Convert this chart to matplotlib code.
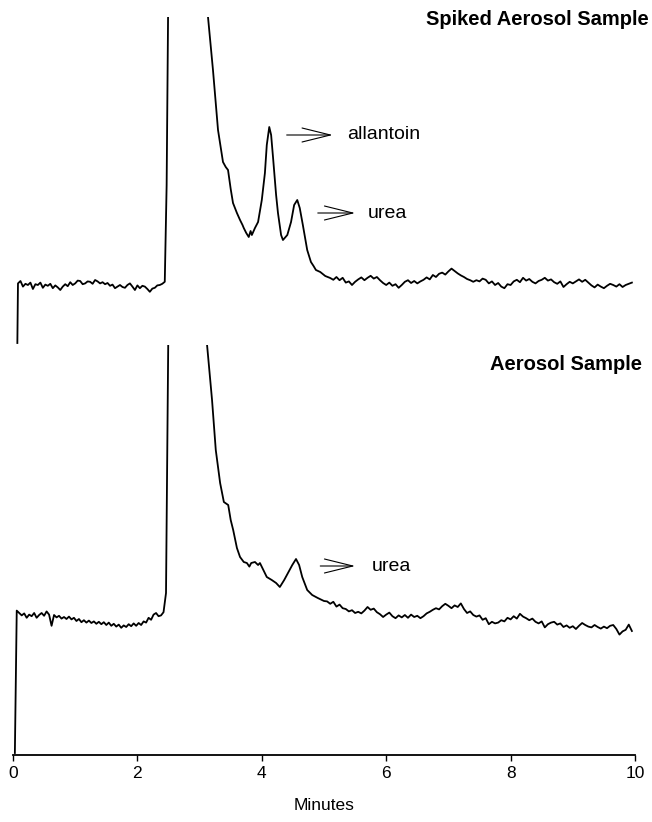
import numpy as np
import matplotlib
matplotlib.use("Agg")
import matplotlib.pyplot as plt

plt.rcParams['font.family'] = ['Liberation Sans', 'DejaVu Sans']

# ---- Spiked aerosol sample (top trace), detector signal in arbitrary units ----
top_start = (0.07, 0.5)
top_base_left = [15.4, 16.0, 14.6, 15.3, 15.0, 15.6, 14.0, 15.2, 15.0, 15.6,
                 14.3, 15.1, 14.8, 15.3, 14.2, 14.9, 14.4, 13.75, 14.6, 15.2,
                 14.7, 15.7, 15.0, 15.4, 16.1, 16.0, 15.2, 15.4, 15.9, 15.8,
                 15.3, 16.25, 15.9, 15.4, 15.7, 15.2, 15.5, 14.8, 15.1, 14.2,
                 14.6, 15.0, 14.5, 14.3, 15.0, 15.4, 14.6, 13.75, 14.9, 14.2,
                 14.8, 14.6, 14.0, 13.3, 14.1, 14.3, 14.9, 15.0, 15.3, 15.8]
top_peak_t = [2.47, 2.50, 3.05, 3.135, 3.215, 3.296, 3.376, 3.42, 3.457, 3.50,
              3.537, 3.60, 3.65, 3.69, 3.71, 3.75, 3.79, 3.82, 3.84, 3.89,
              3.94, 4.00, 4.05, 4.08, 4.12, 4.15, 4.18, 4.23, 4.26, 4.31,
              4.34, 4.41, 4.47, 4.52, 4.57, 4.61, 4.66, 4.73, 4.79, 4.83,
              4.87, 4.94, 5.02, 5.10]
top_peak_v = [40, 95, 110, 82, 68.75, 53.75, 45.75, 44.5, 43.75, 39,
              35.5, 33, 31.25, 30.0, 29.25, 28.0, 27, 28.5, 27.5, 29.25,
              30.75, 36.25, 43, 50, 54.5, 52.5, 47, 37.5, 33, 27.5,
              26.25, 27.5, 30.75, 35, 36.25, 34.25, 30, 23.75, 20.75, 19.8,
              18.75, 18.25, 17.25, 16.75]
top_base_right = [16.3, 17.0, 16.2, 16.8, 15.6, 15.9, 15.0, 15.8, 16.4, 16.9,
                  16.2, 16.8, 17.3, 16.6, 17.0, 16.2, 15.5, 15.0, 15.6, 14.8,
                  15.2, 14.3, 15.0, 15.8, 16.2, 15.5, 16.0, 15.4, 15.9, 16.3,
                  16.9, 16.4, 17.5, 17.0, 17.8, 18.1, 17.6, 18.4, 19.1, 18.5,
                  17.9, 17.4, 17.0, 16.5, 16.2, 15.8, 16.2, 15.9, 16.6, 16.3,
                  15.4, 15.9, 15.0, 15.5, 14.6, 14.2, 15.2, 15.0, 15.9, 16.3,
                  15.7, 16.8, 16.1, 16.5, 15.8, 15.4, 16.0, 16.3, 16.8, 16.1,
                  16.4, 15.7, 15.3, 15.9, 14.5, 15.2, 15.8, 15.4, 15.9, 16.4,
                  15.8, 16.3, 15.6, 14.9, 14.4, 15.1, 14.6, 14.2, 14.8, 15.3,
                  15.0, 14.6, 15.2, 14.5, 15.0, 15.3, 15.6]

# ---- Aerosol sample (bottom trace) ----
bot_start = (0.03, 0.0)
bot_base_left = [35.6, 35.0, 34.4, 34.9, 33.8, 34.6, 34.2, 35.0, 33.8, 34.5,
                 35.0, 34.3, 35.4, 34.6, 31.8, 34.5, 33.9, 34.3, 33.6, 34.0,
                 33.5, 34.1, 33.4, 33.8, 33.0, 33.5, 32.7, 33.2, 32.6, 33.1,
                 32.5, 32.9, 32.3, 32.8, 32.2, 32.7, 32.0, 32.6, 31.8, 32.3,
                 31.6, 32.1, 31.3, 31.9, 31.5, 32.2, 31.7, 32.4, 31.8, 32.5,
                 32.0, 32.9, 32.6, 33.8, 33.3, 34.6, 35.0, 34.2, 34.4, 35.2]
bot_peak_t = [2.46, 2.50, 3.05, 3.12, 3.20, 3.26, 3.33, 3.39, 3.46, 3.50,
              3.54, 3.60, 3.65, 3.71, 3.76, 3.80, 3.83, 3.89, 3.94, 3.97,
              4.04, 4.08, 4.16, 4.23, 4.29, 4.36, 4.42, 4.49, 4.55, 4.60,
              4.65, 4.73, 4.81, 4.90, 5.00]
bot_peak_v = [40, 110, 130, 102, 88.25, 75.75, 67.5, 62.75, 62, 58.25,
              55.75, 51.25, 49, 47.75, 47.5, 46.6, 47.5, 47.75, 47.0, 47.5,
              45.25, 44, 43.25, 42.5, 41.5, 43.25, 45, 47, 48.5, 47,
              44, 40.75, 39.5, 38.75, 38]
bot_base_right = [37.9, 37.3, 37.8, 36.6, 37.1, 36.2, 36.0, 35.4, 35.7, 35.0,
                  35.3, 34.9, 35.6, 36.5, 35.8, 36.1, 35.2, 34.7, 34.0, 34.6,
                  35.1, 34.2, 33.7, 34.4, 33.9, 34.5, 33.8, 34.6, 34.0, 34.3,
                  33.7, 34.2, 34.9, 35.3, 35.8, 36.2, 35.9, 36.7, 37.3, 36.8,
                  36.2, 36.9, 36.5, 37.4, 36.0, 35.0, 35.4, 34.5, 34.1, 34.4,
                  33.3, 33.7, 32.2, 32.8, 32.4, 32.6, 33.2, 32.9, 33.8, 33.4,
                  34.2, 33.6, 34.8, 34.1, 33.7, 33.2, 33.6, 32.8, 32.4, 32.9,
                  31.4, 32.2, 32.6, 32.8, 32.1, 32.4, 31.5, 31.9, 31.3, 31.7,
                  31.0, 31.8, 32.5, 32.0, 31.6, 31.4, 32.0, 31.5, 31.1, 31.6,
                  31.2, 31.8, 32.0, 31.0, 29.6, 30.4, 30.8, 32.1, 30.5]

x_ticks = [0, 2, 4, 6, 8, 10]

t_top = np.concatenate([[top_start[0]], np.linspace(0.08, 2.44, len(top_base_left)),
                        top_peak_t, np.linspace(5.15, 9.95, len(top_base_right))])
v_top = np.concatenate([[top_start[1]], top_base_left, top_peak_v, top_base_right])

t_bot = np.concatenate([[bot_start[0]], np.linspace(0.06, 2.42, len(bot_base_left)),
                        bot_peak_t, np.linspace(5.05, 9.95, len(bot_base_right))])
v_bot = np.concatenate([[bot_start[1]], bot_base_left, bot_peak_v, bot_base_right])

fig = plt.figure(figsize=(6.52, 8.22), dpi=100)
ax_top = fig.add_axes([0.01994, 0.58029, 0.95399, 0.39903])
ax_bot = fig.add_axes([0.01994, 0.08151, 0.95399, 0.49878])

ax_top.plot(t_top, v_top, color='black', lw=1.3)
ax_top.set_xlim(0, 10)
ax_top.set_ylim(0, 82)
ax_top.axis('off')

ax_bot.plot(t_bot, v_bot, color='black', lw=1.3)
ax_bot.set_xlim(0, 10)
ax_bot.set_ylim(-0.5, 102)
for s in ['top', 'right', 'left']:
    ax_bot.spines[s].set_visible(False)
ax_bot.spines['bottom'].set_linewidth(1.3)
ax_bot.set_yticks([])
ax_bot.set_xticks(x_ticks)
ax_bot.tick_params(axis='x', direction='out', length=4, width=1, labelsize=12.5, pad=4)
ax_bot.set_xlabel('Minutes', fontsize=12.5, labelpad=12)

arrow = dict(arrowstyle='->,head_length=1.7,head_width=0.42', lw=0.8, color='black',
             shrinkA=0, shrinkB=0, mutation_scale=12)

# peak labels
ax_top.annotate('', xy=(5.14, 52.5), xytext=(4.40, 52.5), arrowprops=arrow)
ax_top.text(5.37, 52.5, 'allantoin', fontsize=14, va='center', ha='left')
ax_top.annotate('', xy=(5.50, 33), xytext=(4.90, 33), arrowprops=arrow)
ax_top.text(5.71, 33, 'urea', fontsize=14, va='center', ha='left')
ax_bot.annotate('', xy=(5.50, 46.75), xytext=(4.94, 46.75), arrowprops=arrow)
ax_bot.text(5.76, 46.75, 'urea', fontsize=14, va='center', ha='left')

fig.text(0.995, 0.9757, 'Spiked Aerosol Sample', fontsize=14.5, fontweight='bold',
         ha='right', va='center')
fig.text(0.9847, 0.556, 'Aerosol Sample', fontsize=14.5, fontweight='bold',
         ha='right', va='center')

fig.savefig('out.png', dpi=100)
